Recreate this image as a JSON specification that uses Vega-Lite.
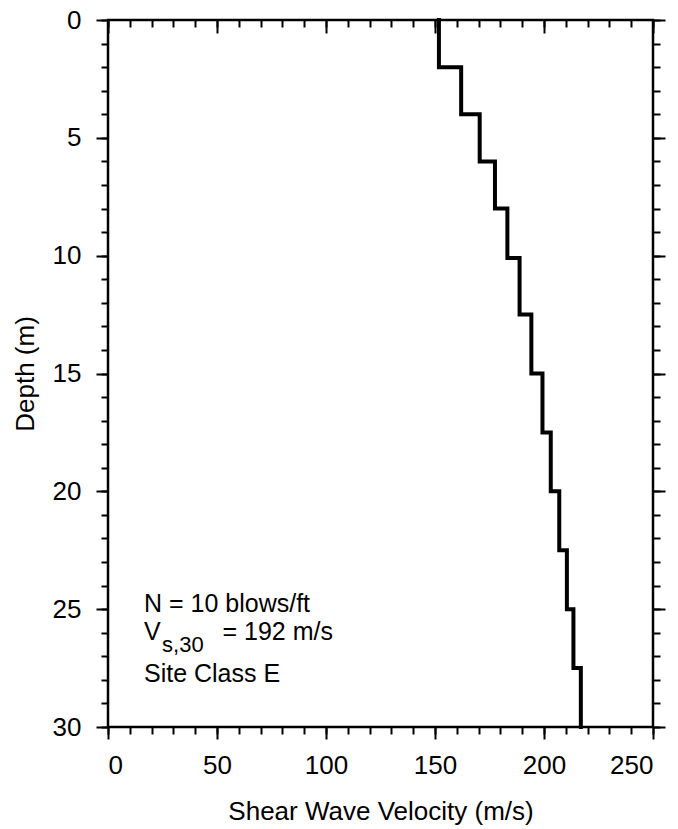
{
  "$schema": "https://vega.github.io/schema/vega-lite/v6.json",
  "autosize": "none",
  "width": 545,
  "height": 707,
  "padding": {"left": 108, "top": 20, "right": 25, "bottom": 102},
  "background": "white",
  "datasets": {
    "profile": [
      {"depth": 0, "vs": 151.8},
      {"depth": 2, "vs": 162},
      {"depth": 4, "vs": 170.5},
      {"depth": 6, "vs": 177.5},
      {"depth": 8, "vs": 183.2},
      {"depth": 10.1, "vs": 188.8},
      {"depth": 12.5, "vs": 194.2},
      {"depth": 15, "vs": 199.3},
      {"depth": 17.5, "vs": 203.1},
      {"depth": 20, "vs": 207},
      {"depth": 22.5, "vs": 210.5},
      {"depth": 25, "vs": 213.5},
      {"depth": 27.5, "vs": 216.9},
      {"depth": 30, "vs": 216.9}
    ]
  },
  "config": {
    "view": {"stroke": "black", "strokeWidth": 2.5},
    "axis": {
      "domain": false,
      "grid": false,
      "tickColor": "black",
      "tickWidth": 2,
      "labelFont": "Liberation Sans",
      "labelFontSize": 26,
      "labelColor": "black",
      "titleFont": "Liberation Sans",
      "titleFontSize": 26,
      "titleFontWeight": "normal",
      "titleColor": "black"
    }
  },
  "resolve": {"axis": {"x": "independent", "y": "independent"}},
  "layer": [
    {
      "data": {"name": "profile"},
      "mark": {"type": "line", "interpolate": "step-before", "color": "black", "strokeWidth": 4, "strokeCap": "square"},
      "encoding": {
        "x": {"field": "vs", "type": "quantitative",
          "scale": {"domain": [0, 250], "nice": false, "zero": false},
          "axis": {"orient": "bottom", "values": [0, 50, 100, 150, 200, 250], "tickSize": 12, "labelPadding": 13, "title": "Shear Wave Velocity (m/s)", "titlePadding": 20}},
        "y": {"field": "depth", "type": "quantitative",
          "scale": {"domain": [0, 30], "nice": false, "reverse": true},
          "axis": {"orient": "left", "values": [0, 5, 10, 15, 20, 25, 30], "tickSize": 12, "labelPadding": 15, "title": "Depth (m)", "titlePadding": 14}},
        "order": {"field": "depth", "type": "quantitative"}
      }
    },
    {
      "data": {"name": "profile"},
      "mark": {"type": "point", "opacity": 0},
      "encoding": {
        "x": {"field": "vs", "type": "quantitative",
          "axis": {"orient": "bottom", "values": [0,10,20,30,40,50,60,70,80,90,100,110,120,130,140,150,160,170,180,190,200,210,220,230,240,250], "tickSize": 7, "labels": false, "title": null}},
        "y": {"field": "depth", "type": "quantitative",
          "axis": {"orient": "left", "values": [0,1,2,3,4,5,6,7,8,9,10,11,12,13,14,15,16,17,18,19,20,21,22,23,24,25,26,27,28,29,30], "tickSize": 7, "labels": false, "title": null}}
      }
    },
    {
      "data": {"name": "profile"},
      "mark": {"type": "point", "opacity": 0},
      "encoding": {
        "x": {"field": "vs", "type": "quantitative",
          "axis": {"orient": "top", "values": [0, 50, 100, 150, 200, 250], "tickSize": -13, "labels": false, "title": null}},
        "y": {"field": "depth", "type": "quantitative",
          "axis": {"orient": "right", "values": [0, 5, 10, 15, 20, 25, 30], "tickSize": 12, "labels": false, "title": null}}
      }
    },
    {
      "data": {"name": "profile"},
      "mark": {"type": "point", "opacity": 0},
      "encoding": {
        "x": {"field": "vs", "type": "quantitative",
          "axis": {"orient": "top", "values": [0,10,20,30,40,50,60,70,80,90,100,110,120,130,140,150,160,170,180,190,200,210,220,230,240,250], "tickSize": -7, "labels": false, "title": null}},
        "y": {"field": "depth", "type": "quantitative",
          "axis": {"orient": "right", "values": [0,1,2,3,4,5,6,7,8,9,10,11,12,13,14,15,16,17,18,19,20,21,22,23,24,25,26,27,28,29,30], "tickSize": 7, "labels": false, "title": null}}
      }
    },
    {
      "data": {"values": [{"label": "N = 10 blows/ft", "vs": 16.5, "depth": 25.1}, {"label": "V", "vs": 16.5, "depth": 26.3}, {"label": "= 192 m/s", "vs": 52.5, "depth": 26.3}, {"label": "Site Class E", "vs": 16.5, "depth": 28.1}]},
      "mark": {"type": "text", "align": "left", "baseline": "alphabetic", "font": "Liberation Sans", "fontSize": 25, "color": "black"},
      "encoding": {
        "x": {"field": "vs", "type": "quantitative", "axis": null},
        "y": {"field": "depth", "type": "quantitative", "axis": null},
        "text": {"field": "label"}
      }
    },
    {
      "data": {"values": [{"label": "s,30", "vs": 24.8, "depth": 26.8}]},
      "mark": {"type": "text", "align": "left", "baseline": "alphabetic", "font": "Liberation Sans", "fontSize": 22, "color": "black"},
      "encoding": {
        "x": {"field": "vs", "type": "quantitative", "axis": null},
        "y": {"field": "depth", "type": "quantitative", "axis": null},
        "text": {"field": "label"}
      }
    }
  ]
}
